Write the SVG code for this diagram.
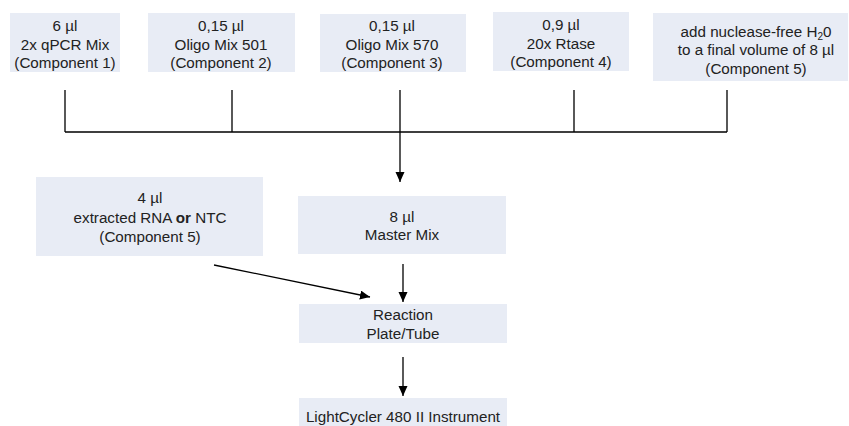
<svg xmlns="http://www.w3.org/2000/svg" width="849" height="426" viewBox="0 0 849 426">
<style>
.box{fill:#e8ecf5;}
.t{font-family:"Liberation Sans","Open Sans",Arial,sans-serif;font-size:15.2px;fill:#222;text-anchor:middle;}
.ln{stroke:#000;stroke-width:1.3;fill:none;}
</style>
<defs>
<marker id="ah" markerWidth="10" markerHeight="10" refX="10" refY="4.5" orient="auto" markerUnits="userSpaceOnUse">
<path d="M0,0 L10,4.5 L0,9 z" fill="#000"/>
</marker>
</defs>
<rect width="849" height="426" fill="#fff"/>
<g id="n1"><rect class="box" x="10" y="13" width="110" height="59"/>
<text class="t" x="65" y="31">6 µl</text><text class="t" x="65" y="50">2x qPCR Mix</text><text class="t" x="65" y="68">(Component 1)</text></g>
<g id="n2"><rect class="box" x="148" y="13" width="147" height="59"/>
<text class="t" x="221" y="31">0,15 µl</text><text class="t" x="221" y="50">Oligo Mix 501</text><text class="t" x="221" y="68">(Component 2)</text></g>
<g id="n3"><rect class="box" x="320" y="14" width="146" height="58"/>
<text class="t" x="392" y="31">0,15 µl</text><text class="t" x="392" y="50">Oligo Mix 570</text><text class="t" x="392" y="68">(Component 3)</text></g>
<g id="n4"><rect class="box" x="493" y="12" width="136" height="59"/>
<text class="t" x="561" y="30">0,9 µl</text><text class="t" x="561" y="49">20x Rtase</text><text class="t" x="561" y="67">(Component 4)</text></g>
<g id="n5"><rect class="box" x="653" y="13" width="195" height="68"/>
<text class="t" x="756" y="37">add nuclease-free H<tspan font-size="10" dy="3">2</tspan><tspan dy="-3">0</tspan></text><text class="t" x="756" y="55">to a final volume of 8 µl</text><text class="t" x="756" y="74">(Component 5)</text></g>
<g id="n6"><rect class="box" x="36" y="177" width="227" height="79"/>
<text class="t" x="150" y="203">4 µl</text><text class="t" x="150" y="223">extracted RNA <tspan font-weight="bold">or</tspan> NTC</text><text class="t" x="150" y="242">(Component 5)</text></g>
<g id="n7"><rect class="box" x="298" y="196" width="208" height="58"/>
<text class="t" x="402" y="222">8 µl</text><text class="t" x="402" y="240">Master Mix</text></g>
<g id="n8"><rect class="box" x="299" y="304" width="208" height="39"/>
<text class="t" x="403" y="320">Reaction</text><text class="t" x="403" y="339">Plate/Tube</text></g>
<g id="n9"><rect class="box" x="299" y="398" width="208" height="30"/>
<text class="t" x="403" y="422">LightCycler 480 II Instrument</text></g>
<g id="connectors">
<path class="ln" d="M65,90 V132 M232,90 V132 M400,90 V132 M574,90 V132 M727,90 V132 M65,132 H727"/>
<path class="ln" d="M400,132 V182" marker-end="url(#ah)"/>
<path class="ln" d="M214,265 L370,297" marker-end="url(#ah)"/>
<path class="ln" d="M403,264 V302" marker-end="url(#ah)"/>
<path class="ln" d="M403,357 V396" marker-end="url(#ah)"/>
</g>
</svg>
